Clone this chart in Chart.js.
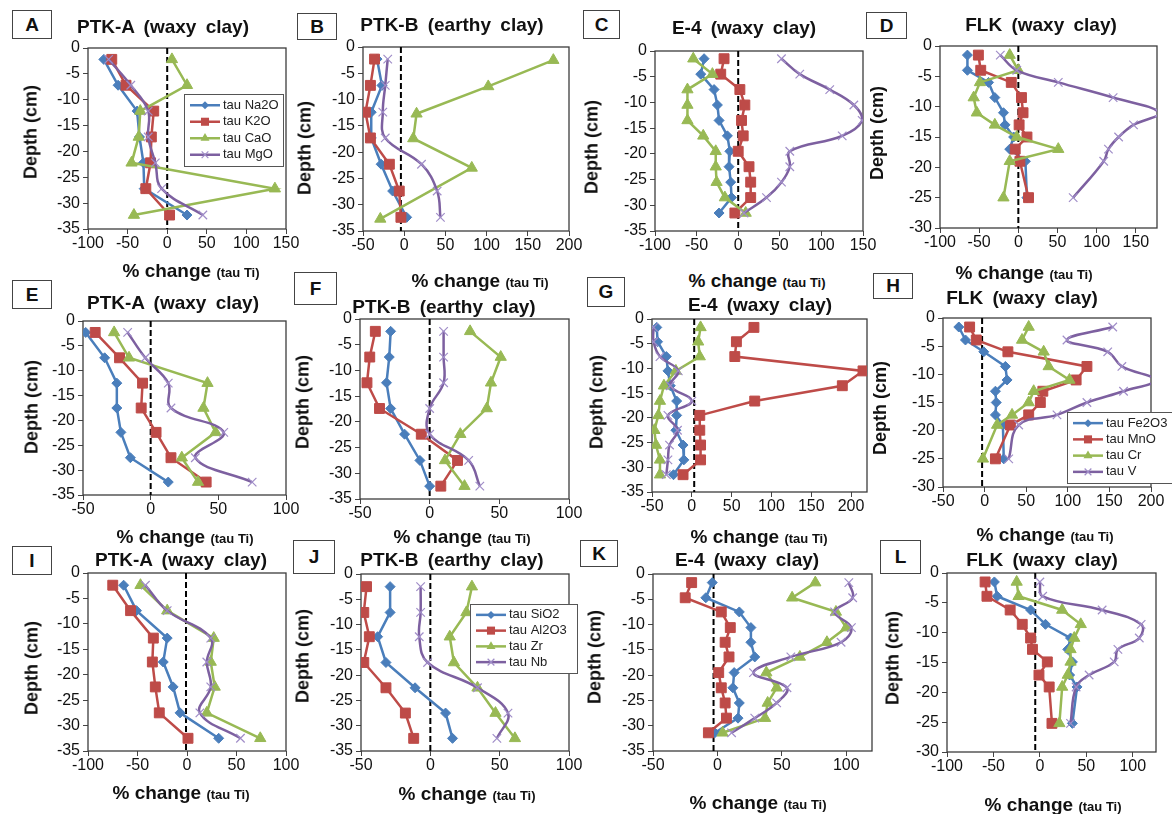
<!DOCTYPE html>
<html>
<head>
<meta charset="utf-8">
<script src="https://cdn.jsdelivr.net/npm/chart.js@4.4.1/dist/chart.umd.min.js"></script>
<style>
  body { margin: 0; background: #fff; width: 1172px; height: 814px; position: relative; overflow: hidden;
         font-family: "Liberation Sans", Arial, sans-serif; }
  canvas { position: absolute; }
  .t { position: absolute; transform: translate(-50%, -50%); white-space: pre; font-weight: bold; color: #111; }
  .title { font-size: 19px; word-spacing: 4px; }
  .yt { font-size: 18px; transform: translate(-50%, -50%) rotate(-90deg); }
  .xt { font-size: 19px; }
  .xt small { font-size: 13px; }
  .box { position: absolute; border: 1px solid #444; background: #fff; font-weight: bold; font-size: 19px;
         display: flex; align-items: center; justify-content: center; color: #111; }
</style>
</head>
<body>
<script>
// series names per row
const namesRow1 = ["tau Na2O", "tau K2O", "tau CaO", "tau MgO"];
const namesRow2 = ["tau Fe2O3", "tau MnO", "tau Cr", "tau V"];
const namesRow3 = ["tau SiO2", "tau Al2O3", "tau Zr", "tau Nb"];

// A - PTK-A
const depthA = [-2.2, -7.2, -12.2, -17.2, -22.2, -27.2, -32.3];
const naA = [-80, -62, -38, -35, -30, -29, 25];
const kA = [-70, -52, -17, -20, -21, -27, 3];
const caA = [6, 25, -34, -36, -45, 136, -42];
const mgA = [-74, -46, -24, -24, -15, -7, 45];

// B - PTK-B
const depthB = [-2.3, -7.3, -12.4, -17.3, -22.3, -27.4, -32.4];
const depthBca = [-2.5, -7.5, -12.7, -17.4, -23, -32.7];
const naB = [-33, -27, -40, -40, -28, -14, 3];
const kB = [-36, -41, -47, -41, -18, -6, -4];
const caB = [181, 102, 15, 11, 82, -29];
const mgB = [-20, -23, -26, -23, 21, 40, 44];

// C - E-4
const depthC = [-1.5, -4.5, -7.5, -10.5, -13.5, -16.5, -19.5, -22.5, -25.5, -28.5, -31.5];
const naC = [-41, -45, -29, -25, -23, -13, -10, -11, -9, -8, -23];
const kC = [-17, -21, 2, 8, 4, 6, 0, 13, 15, 15, -4];
const caC = [-54, -31, -61, -61, -61, -42, -27, -27, -26, -16, 9];
const mgC = [52, 74, 110, 139, 149, 125, 62, 62, 52, 34, 7];

// D - FLK
const depthD = [-1.5, -4, -6, -8.5, -11, -13, -15, -17, -19, -25];
const naD = [-65, -65, -38, -30, -19, -17, -6, -11, 9, 11];
const kD = [-51, -48, -9, 4, 6, 1, 11, -4, 2, 13];
const caD = [-11, 0, -49, -57, -53, -30, -2, 51, -11, -19];
const mgD = [-23, -2, 51, 121, 180, 147, 128, 115, 109, 70];

// E - PTK-A
const depthE = [-2.3, -7.4, -12.5, -17.5, -22.4, -27.5, -32.4];
const feE = [-48, -34, -25, -25, -22, -15, 13];
const mnE = [-41, -23, -6, -7, 4, 15, 41];
const crE = [-27, -16, 42, 39, 48, 23, 35];
const vE = [-17, -4, 13, 15, 54, 33, 75];

// F - PTK-B
const depthF = [-2.4, -7.4, -12.4, -17.4, -22.4, -27.5, -32.5];
const feF = [-28, -29, -31, -28, -18, -7, 0];
const mnF = [-39, -43, -45, -36, -6, 20, 8];
const crF = [29, 51, 44, 41, 22, 11, 25];
const vF = [10, 10, 10, 0, 0, 28, 36];

// G - E-4
const depthG = [-1.7, -4.6, -7.6, -10.5, -13.5, -16.6, -19.5, -22.5, -25.5, -28.5, -31.5];
const feG = [-44, -43, -32, -30, -27, -19, -19, -20, -11, -10, -23];
const mnG = [78, 56, 54, 215, 189, 79, 10, 10, 11, 11, -11];
const crG = [11, 8, 10, -20, -35, -40, -42, -47, -45, -40, -40];
const vG = [-48, -48, -40, -17, -27, 0, -30, -18, -28, -30, -32];

// H - FLK
const depthH = [-1.6, -3.9, -6, -8.6, -11, -13, -15, -17.2, -19, -25];
const feH = [-31, -23, -1, 25, 27, 13, 14, 13, 22, 23];
const mnH = [-18, -10, 28, 123, 110, 70, 67, 53, 31, 13];
const crH = [53, 45, 71, 77, 102, 59, 53, 33, 15, -2];
const vH = [154, 99, 148, 165, 205, 167, 123, 87, 41, 29];

// I - PTK-A
const depthI = [-2.4, -7.4, -12.8, -17.5, -22.4, -27.5, -32.5];
const siI = [-64, -51, -20, -24, -14, -7, 32];
const alI = [-75, -57, -34, -35, -32, -28, 1];
const zrI = [-47, -20, 27, 24, 28, 20, 74];
const nbI = [-42, -20, 24, 20, 24, 13, 54];

// J - PTK-B
const depthJ = [-2.5, -7.6, -12.4, -17.5, -22.5, -27.5, -32.5];
const siJ = [-29, -29, -38, -32, -11, 11, 16];
const alJ = [-46, -48, -44, -48, -32, -18, -12];
const zrJ = [30, 26, 14, 17, 34, 47, 61];
const nbJ = [-7, -7, -8, -2, 34, 56, 48];

// K - E-4
const depthK = [-1.7, -4.7, -7.5, -10.6, -13.5, -16.4, -19.5, -22.5, -25.5, -28.5, -31.4];
const siK = [-4, -9, 17, 26, 26, 29, 13, 12, 17, 16, -2];
const alK = [-20, -25, 3, 10, 6, 9, 1, 3, 6, 7, -7];
const zrK = [76, 58, 92, 100, 85, 64, 38, 46, 39, 37, 4];
const nbK = [102, 105, 91, 104, 96, 57, 28, 54, 46, 29, 11];

// L - FLK
const depthL = [-1.5, -3.9, -6.2, -8.6, -10.9, -12.8, -14.9, -17.1, -19.1, -25.2];
const siL = [-49, -46, -10, 6, 33, 30, 35, 32, 40, 35];
const alL = [-59, -57, -32, -19, -10, -8, 8, -1, 10, 13];
const zrL = [-25, -23, 24, 44, 37, 33, 33, 30, 24, 21];
const nbL = [0, 3, 67, 109, 107, 84, 80, 53, 39, 33];

// dashed reference line position per panel (A..L)
const zeroLines = [0, -4, 0, 0, 0, 0, 3, -3, -1, 0, -3, -5];

const styles = [
  { color: "#4A7EBB", mark: "#4A7EBB", point: "rectRot", r: 5, tension: 0 },
  { color: "#BE4B48", mark: "#BE4B48", point: "rect", r: 7, tension: 0 },
  { color: "#98B954", mark: "#98B954", point: "triangle", r: 6.5, tension: 0 },
  { color: "#7D60A0", mark: "#A08DC8", point: "crossRot", r: 6, tension: 0.4 },
];

const panels = [
  { key: "A", title: "PTK-A (waxy clay)", names: namesRow1, depths: [depthA, depthA, depthA, depthA], vals: [naA, kA, caA, mgA],
    plot: [88, 48, 286, 229], x: [-100, 150], ymin: -35, t: [163, 27], yt: [31, 132], xt: [191, 271], box: [12, 10, 38, 27],
    legend: { x: 184, y: 94, w: 99, h: 72 } },
  { key: "B", title: "PTK-B (earthy clay)", names: namesRow1, depths: [depthB, depthB, depthBca, depthB], vals: [naB, kB, caB, mgB],
    plot: [363, 47, 569, 231], x: [-50, 200], ymin: -35, t: [452, 25], yt: [305, 148], xt: [480, 281], box: [297, 13, 38, 25] },
  { key: "C", title: "E-4 (waxy clay)", names: namesRow1, depths: [depthC, depthC, depthC, depthC], vals: [naC, kC, caC, mgC],
    plot: [655, 51, 863, 231], x: [-100, 150], ymin: -35, t: [744, 28], yt: [592, 147], xt: [757, 281], box: [583, 10, 35, 27] },
  { key: "D", title: "FLK (waxy clay)", names: namesRow1, depths: [depthD, depthD, depthD, depthD], vals: [naD, kD, caD, mgD],
    plot: [940, 46, 1157, 228], x: [-100, 177], ymin: -30, t: [1041, 25], yt: [877, 133], xt: [1024, 273], box: [866, 12, 39, 25] },
  { key: "E", title: "PTK-A (waxy clay)", names: namesRow2, depths: [depthE, depthE, depthE, depthE], vals: [feE, mnE, crE, vE],
    plot: [83, 321, 286, 495], x: [-50, 100], ymin: -35, t: [173, 303], yt: [32, 407], xt: [185, 537], box: [12, 280, 38, 27] },
  { key: "F", title: "PTK-B (earthy clay)", names: namesRow2, depths: [depthF, depthF, depthF, depthF], vals: [feF, mnF, crF, vF],
    plot: [360, 319, 569, 499], x: [-50, 100], ymin: -35, t: [444, 307], yt: [303, 402], xt: [462, 537], box: [294, 272, 41, 31] },
  { key: "G", title: "E-4 (waxy clay)", names: namesRow2, depths: [depthG, depthG, depthG, depthG], vals: [feG, mnG, crG, vG],
    plot: [652, 319, 867, 492], x: [-50, 220], ymin: -35, t: [760, 305], yt: [597, 402], xt: [759, 537], box: [587, 277, 36, 28] },
  { key: "H", title: "FLK (waxy clay)", names: namesRow2, depths: [depthH, depthH, depthH, depthH], vals: [feH, mnH, crH, vH],
    plot: [943, 318, 1151, 487], x: [-50, 200], ymin: -30, t: [1022, 298], yt: [880, 408], xt: [1045, 535], box: [873, 273, 38, 24],
    legend: { x: 1067, y: 412, w: 106, h: 71 } },
  { key: "I", title: "PTK-A (waxy clay)", names: namesRow3, depths: [depthI, depthI, depthI, depthI], vals: [siI, alI, zrI, nbI],
    plot: [88, 573, 286, 751], x: [-100, 100], ymin: -35, t: [181, 560], yt: [32, 668], xt: [181, 793], box: [12, 546, 38, 27] },
  { key: "J", title: "PTK-B (earthy clay)", names: namesRow3, depths: [depthJ, depthJ, depthJ, depthJ], vals: [siJ, alJ, zrJ, nbJ],
    plot: [361, 574, 569, 751], x: [-50, 100], ymin: -35, t: [452, 560], yt: [303, 656], xt: [467, 794], box: [293, 540, 40, 32],
    legend: { x: 470, y: 604, w: 107, h: 69 } },
  { key: "K", title: "E-4 (waxy clay)", names: namesRow3, depths: [depthK, depthK, depthK, depthK], vals: [siK, alK, zrK, nbK],
    plot: [653, 574, 872, 751], x: [-50, 120], ymin: -35, t: [747, 560], yt: [595, 657], xt: [758, 803], box: [580, 540, 36, 25] },
  { key: "L", title: "FLK (waxy clay)", names: namesRow3, depths: [depthL, depthL, depthL, depthL], vals: [siL, alL, zrL, nbL],
    plot: [947, 573, 1156, 752], x: [-100, 125], ymin: -30, t: [1042, 560], yt: [893, 658], xt: [1053, 805], box: [880, 540, 39, 32] },
];

const ML = 52, MT = 12, MR = 26, MB = 32;

function drawMarker(c, style, x, y, r, fill, stroke) {
  c.save();
  c.fillStyle = fill;
  c.strokeStyle = stroke;
  c.lineWidth = 1.2;
  c.beginPath();
  if (style === "rectRot") {
    c.moveTo(x, y - r); c.lineTo(x + r, y); c.lineTo(x, y + r); c.lineTo(x - r, y); c.closePath(); c.fill();
  } else if (style === "rect") {
    const s = r * 0.72;
    c.rect(x - s, y - s, 2 * s, 2 * s); c.fill();
  } else if (style === "triangle") {
    c.moveTo(x, y - r); c.lineTo(x + r * 0.87, y + r * 0.5); c.lineTo(x - r * 0.87, y + r * 0.5); c.closePath(); c.fill();
  } else {
    const s = r * 0.7;
    c.moveTo(x - s, y - s); c.lineTo(x + s, y + s); c.moveTo(x + s, y - s); c.lineTo(x - s, y + s); c.stroke();
  }
  c.restore();
}

// plot area frame (Excel style box)
const framePlugin = {
  id: "frame",
  beforeDatasetsDraw(chart) {
    const a = chart.chartArea, c = chart.ctx;
    c.save();
    c.strokeStyle = "#3c3c3c";
    c.lineWidth = 1.3;
    c.strokeRect(a.left, a.top, a.right - a.left, a.bottom - a.top);
    c.restore();
  },
};

// boxed legend placed inside the plot, like the Excel one
const legendPlugin = {
  id: "boxLegend",
  afterDatasetsDraw(chart, args, opts) {
    if (!opts || !opts.show) return;
    const c = chart.ctx;
    const sets = chart.data.datasets.filter((d) => d.label);
    c.save();
    c.fillStyle = "#fff";
    c.fillRect(opts.x, opts.y, opts.w, opts.h);
    c.strokeStyle = "#555";
    c.lineWidth = 1;
    c.strokeRect(opts.x + 0.5, opts.y + 0.5, opts.w, opts.h);
    const rh = (opts.h - 6) / sets.length;
    sets.forEach((d, i) => {
      const cy = opts.y + 3 + rh * (i + 0.5);
      c.strokeStyle = d.borderColor;
      c.lineWidth = 2.5;
      c.beginPath();
      c.moveTo(opts.x + 6, cy);
      c.lineTo(opts.x + 36, cy);
      c.stroke();
      drawMarker(c, d.pointStyle, opts.x + 21, cy, d.pointRadius * 0.8, d.pointBackgroundColor, d.pointBorderColor);
      c.fillStyle = "#222";
      c.font = '13px "Liberation Sans", Arial';
      c.textBaseline = "middle";
      c.fillText(d.label, opts.x + 39, cy);
    });
    c.restore();
  },
};

function addText(cls, x, y, html) {
  const d = document.createElement("div");
  d.className = "t " + cls;
  d.style.left = x + "px";
  d.style.top = y + "px";
  d.innerHTML = html;
  document.body.appendChild(d);
}

// ticks every 50 only, no extra tick at an odd axis max
function fiftyTicks(s) {
  const out = [];
  for (let v = Math.ceil(s.min / 50) * 50; v <= s.max + 1e-9; v += 50) out.push({ value: v });
  s.ticks = out;
}

panels.forEach((p, pi) => {
  const [L, T, R, B] = p.plot;
  const cv = document.createElement("canvas");
  const W = R - L + ML + MR, H = B - T + MT + MB;
  cv.width = W; cv.height = H;
  cv.style.left = (L - ML) + "px";
  cv.style.top = (T - MT) + "px";
  document.body.appendChild(cv);

  const datasets = p.vals.map((vals, si) => {
    const st = styles[si];
    return {
      label: p.names[si],
      data: vals.map((v, k) => ({ x: v, y: p.depths[si][k] })),
      showLine: true,
      borderColor: st.color,
      borderWidth: 2.5,
      tension: st.tension,
      pointStyle: st.point,
      pointRadius: st.r,
      pointBackgroundColor: st.mark,
      pointBorderColor: st.mark,
      pointBorderWidth: st.point === "crossRot" ? 1.2 : 1,
      order: 3 - si,
    };
  });
  datasets.push({
    label: "",
    data: [{ x: zeroLines[pi], y: 0 }, { x: zeroLines[pi], y: p.ymin }],
    showLine: true,
    borderColor: "#000",
    borderWidth: 2,
    borderDash: [6, 3],
    pointRadius: 0,
    order: 10,
  });

  const legendOpts = p.legend
    ? { show: true, x: p.legend.x - (L - ML), y: p.legend.y - (T - MT), w: p.legend.w, h: p.legend.h }
    : { show: false };

  new Chart(cv.getContext("2d"), {
    type: "scatter",
    data: { datasets },
    plugins: [framePlugin, legendPlugin],
    options: {
      responsive: false,
      animation: false,
      devicePixelRatio: 1,
      layout: { padding: { top: MT, right: MR, left: 0, bottom: 0 } },
      plugins: { legend: { display: false }, tooltip: { enabled: false }, boxLegend: legendOpts },
      scales: {
        x: {
          type: "linear",
          min: p.x[0],
          max: p.x[1],
          afterBuildTicks: fiftyTicks,
          afterFit: (s) => { s.height = MB; s.paddingLeft = 0; s.paddingRight = 0; },
          ticks: { color: "#111", padding: 0, maxRotation: 0, autoSkip: false,
                   font: { family: '"Liberation Sans", Arial', size: 16 } },
          grid: { drawOnChartArea: false, drawTicks: true, tickLength: 5, color: "#444" },
          border: { display: false },
        },
        y: {
          type: "linear",
          min: p.ymin,
          max: 0,
          afterFit: (s) => { s.width = ML; s.paddingTop = 0; s.paddingBottom = 0; },
          ticks: { stepSize: 5, color: "#111", padding: 3, autoSkip: false,
                   font: { family: '"Liberation Sans", Arial', size: 16 } },
          grid: { drawOnChartArea: false, drawTicks: true, tickLength: 5, color: "#444" },
          border: { display: false },
        },
      },
    },
  });

  const bx = document.createElement("div");
  bx.className = "box";
  bx.style.left = p.box[0] + "px";
  bx.style.top = p.box[1] + "px";
  bx.style.width = p.box[2] + "px";
  bx.style.height = p.box[3] + "px";
  bx.textContent = p.key;
  document.body.appendChild(bx);

  addText("title", p.t[0], p.t[1], p.title);
  addText("yt", p.yt[0], p.yt[1], "Depth (cm)");
  addText("xt", p.xt[0], p.xt[1], "% change <small>(tau Ti)</small>");
});
</script>
</body>
</html>
